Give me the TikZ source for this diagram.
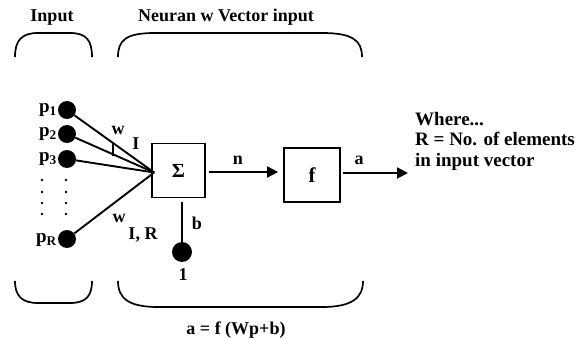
\documentclass[tikz,border=0pt]{standalone}
\usepackage{fontspec}
\setmainfont{Liberation Serif}
\usetikzlibrary{arrows.meta}
\begin{document}
\begin{tikzpicture}[x=1pt,y=-1pt,
  txt/.style={font=\bfseries\fontsize{18}{20.5}\selectfont, inner sep=0pt},
  lbl/.style={font=\bfseries\fontsize{18}{20}\selectfont, inner sep=0pt},
  plbl/.style={font=\bfseries\fontsize{19}{20}\selectfont, inner sep=0pt},
  dot/.style={circle, fill=black, minimum size=18pt, inner sep=0pt},
  smalldot/.style={circle, fill=black, minimum size=2.8pt, inner sep=0pt},
  blk/.style={draw, line width=1.7pt, minimum width=53pt, minimum height=54pt, inner sep=0pt},
  wire/.style={line width=1.9pt},
  brk/.style={line width=1.7pt},
  arr/.style={line width=1.9pt, -{Triangle[length=11pt,width=11pt]}}]
\useasboundingbox (0,0) rectangle (587,339);

% titles
\node[txt, anchor=base] (tin) at (52,22) {Input};
\node[txt, anchor=base] (tneu) at (226,22) {Neuran w Vector input};

% top brackets
\draw[brk] (15,57) .. controls (15,40) and (22,33) .. (38,33) -- (70,33) .. controls (86,33) and (92,40) .. (92,57);
\draw[brk] (118,57) .. controls (118,40) and (126,33) .. (155,33) -- (322,33) .. controls (352,33) and (362,40) .. (362,57);
% bottom brackets
\draw[brk] (15,281) .. controls (15,296) and (22,303) .. (38,303) -- (70,303) .. controls (86,303) and (92,296) .. (92,281);
\draw[brk] (118,281) .. controls (118,298) and (128,307) .. (158,307) -- (322,307) .. controls (352,307) and (363,298) .. (363,281);

% input dots
\node[dot] (p1) at (67,110) {};
\node[dot] (p2) at (67,134) {};
\node[dot] (p3) at (67,159) {};
\node[dot] (pR) at (67,239) {};
\node[plbl, anchor=base east] (l1) at (57,113) {p\textsubscript{1}};
\node[plbl, anchor=base east] (l2) at (57,137) {p\textsubscript{2}};
\node[plbl, anchor=base east] (l3) at (57,162) {p\textsubscript{3}};
\node[plbl, anchor=base east] (lR) at (57,243) {p\textsubscript{R}};
\foreach \y [count=\i] in {180,192,203,214}{
  \node[smalldot] (da\i) at (42,\y) {};
  \node[smalldot] (db\i) at (66,\y) {};
}

% summation block
\node[blk, font=\bfseries\fontsize{20}{22}\selectfont] (sigma) at (178.5,170.5) {Σ};
\coordinate (conv) at ([xshift=3pt,yshift=-2pt]sigma.west);
\draw[wire] (p1) -- (conv);
\draw[wire] (p2) -- (conv);
\draw[wire] (p3) -- (conv);
\draw[wire] (pR) -- (conv);

% weight labels
\node[lbl, anchor=base] (w1) at (118,135) {w};
\node[lbl, anchor=base] (i1) at (136,150) {I};
\coordinate (tk1) at (113,142);
\coordinate (tk2) at (113,156);
\draw[line width=1.1pt] (tk1) -- (tk2);
\node[lbl, anchor=base] (w2) at (119,223) {w};
\node[lbl, anchor=base] (i2) at (143,240) {I, R};

% bias
\node[dot, minimum size=20pt] (bias) at (182,252) {};
\draw[wire] ([yshift=-4pt]sigma.south -| bias) -- (bias);
\node[lbl, anchor=base] (lb) at (197,230) {b};
\node[lbl, anchor=base] (lone) at (183,281) {1};

% transfer block
\node[blk, minimum width=56pt, minimum height=54pt, font=\bfseries\fontsize{21}{22}\selectfont] (fb) at (312,175) {f};
\coordinate (nend) at ([xshift=-5pt]fb.west |- 0,172);
\draw[arr] ([xshift=3pt]sigma.east |- nend) -- (nend);
\node[lbl, anchor=base] (ln) at (238,165) {n};
\coordinate (aend) at (408,173);
\draw[arr] ([xshift=2pt]fb.east |- aend) -- (aend);
\node[lbl, anchor=base] (la) at (359,165) {a};

% note
\node[font=\bfseries\fontsize{19}{20.5}\selectfont, inner sep=0pt, anchor=north west, align=left] (note) at (415,112) {Where...\\R = No. of elements\\in input vector};

% formula
\node[txt, anchor=base] (form) at (236,335) {a = f (Wp+b)};
\end{tikzpicture}
\end{document}
